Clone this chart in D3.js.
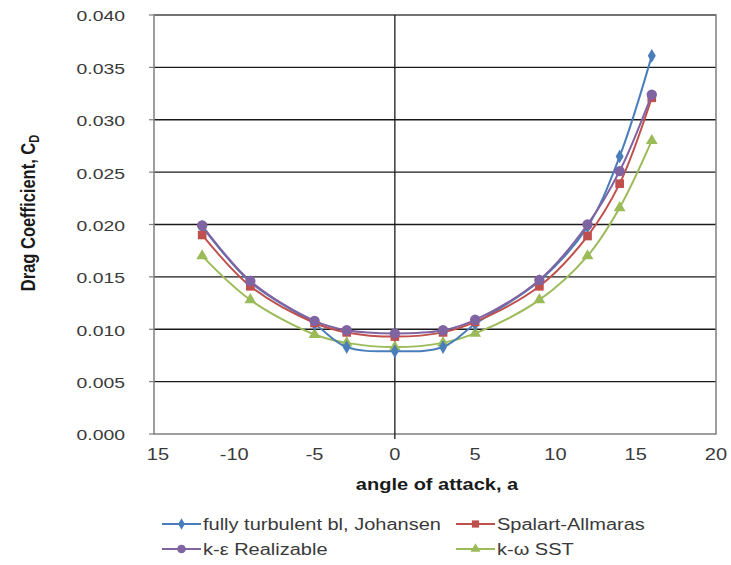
<!DOCTYPE html>
<html><head><meta charset="utf-8">
<script src="https://cdn.jsdelivr.net/npm/d3@7"></script>
<style>body{margin:0;background:#fff;} svg{display:block;font-family:"Liberation Sans",Arial,sans-serif;}</style>
</head><body>
<svg id="c" width="731" height="565"></svg>
<script>
const angles = [-12, -9, -5, -3, 0, 3, 5, 9, 12, 14, 16];
const johansen = [0.0198, 0.0145, 0.0105, 0.0083, 0.0079, 0.0083, 0.0105, 0.0146, 0.0198, 0.0265, 0.0361];
const spalart = [0.0190, 0.0141, 0.0106, 0.0097, 0.0093, 0.0097, 0.0107, 0.0141, 0.0189, 0.0239, 0.0321];
const kEps = [0.0199, 0.0146, 0.0108, 0.0099, 0.0096, 0.0099, 0.0109, 0.0147, 0.0200, 0.0251, 0.0324];
const kOmega = [0.0170, 0.0128, 0.0095, 0.0087, 0.0083, 0.0087, 0.0096, 0.0128, 0.0170, 0.0216, 0.0280];
const xTicks = [-15, -10, -5, 0, 5, 10, 15, 20];
const xTickLabels = ["15", "-10", "-5", "0", "5", "10", "15", "20"];
const yTicks = [0, 0.005, 0.01, 0.015, 0.02, 0.025, 0.03, 0.035, 0.04];
const seriesNames = ["fully turbulent bl, Johansen", "Spalart-Allmaras", "k-\u03b5 Realizable", "k-\u03c9 SST"];

const SX = 1.25; // horizontal stretch of the text in the reference
const svg = d3.select("#c");
const x = d3.scaleLinear().domain([-15, 20]).range([154, 716]);
const y = d3.scaleLinear().domain([0, 0.04]).range([434, 15]);

// gridlines
svg.append("g").selectAll("line").data(yTicks.slice(1)).join("line")
  .attr("x1", x(-15)).attr("x2", x(20)).attr("y1", d => y(d)).attr("y2", d => y(d))
  .attr("stroke", "#1a1a1a").attr("stroke-width", 1.3);

// plot border
svg.append("rect").attr("x", x(-15)).attr("y", y(0.04)).attr("width", x(20) - x(-15)).attr("height", y(0) - y(0.04))
  .attr("fill", "none").attr("stroke", "#7f7f7f").attr("stroke-width", 1.5);

// vertical axis at 0
svg.append("line").attr("x1", x(0)).attr("x2", x(0)).attr("y1", y(0.04)).attr("y2", y(0) + 5)
  .attr("stroke", "#1a1a1a").attr("stroke-width", 1.3);

// y ticks (small, on left border)
svg.append("g").selectAll("line").data(yTicks).join("line")
  .attr("x1", x(-15) - 5).attr("x2", x(-15)).attr("y1", d => y(d)).attr("y2", d => y(d))
  .attr("stroke", "#7f7f7f").attr("stroke-width", 1.2);

// y tick labels
svg.append("g").selectAll("text").data(yTicks).join("text")
  .attr("transform", d => `translate(125,${y(d) + 1}) scale(${SX},1)`)
  .attr("dy", "0.35em").attr("text-anchor", "end")
  .attr("font-size", 15.5).attr("fill", "#3a3a3a").text(d => d.toFixed(3));

// x tick labels
svg.append("g").selectAll("text").data(xTicks).join("text")
  .attr("transform", (d, i) => `translate(${x(d) + (i === 0 ? 4 : 0)},460) scale(${SX},1)`)
  .attr("text-anchor", "middle")
  .attr("font-size", 16).attr("fill", "#3a3a3a").text((d, i) => xTickLabels[i]);

// axis titles
svg.append("text").attr("transform", `translate(437,490) scale(${SX},1)`).attr("text-anchor", "middle")
  .attr("font-size", 16).attr("font-weight", "bold").attr("fill", "#1a1a1a").text("angle of attack, a");
const yt = svg.append("text").attr("transform", `translate(35,213) scale(${SX},1) rotate(-90)`).attr("text-anchor", "middle")
  .attr("font-size", 16.5).attr("font-weight", "bold").attr("fill", "#1a1a1a");
yt.append("tspan").text("Drag Coefficient, C");
yt.append("tspan").attr("font-size", 11).attr("dy", 3).text("D");

const series = [
  {name: seriesNames[0], vals: johansen, color: "#4a7ebb", sym: d3.symbolDiamond, size: 55},
  {name: seriesNames[1], vals: spalart, color: "#c0504d", sym: d3.symbolSquare, size: 75},
  {name: seriesNames[2], vals: kEps, color: "#8064a2", sym: d3.symbolCircle, size: 85},
  {name: seriesNames[3], vals: kOmega, color: "#9bbb59", sym: d3.symbolTriangle, size: 60}
];
const drawOrder = [3, 0, 1, 2];
const line = d3.line().x(d => x(d[0])).y(d => y(d[1])).curve(d3.curveCatmullRom.alpha(0.5));
drawOrder.forEach(i => {
  const s = series[i];
  const pts = angles.map((a, j) => [a, s.vals[j]]);
  svg.append("path").datum(pts).attr("d", line).attr("fill", "none")
    .attr("stroke", s.color).attr("stroke-width", 2);
  svg.append("g").selectAll("path").data(pts).join("path")
    .attr("d", d3.symbol().type(s.sym).size(s.size))
    .attr("transform", d => `translate(${x(d[0])},${y(d[1])})`)
    .attr("fill", s.color);
});

// legend
const legPos = [[162, 524], [456, 524], [162, 549], [456, 549]];
series.forEach((s, i) => {
  const [lx, ly] = legPos[i];
  svg.append("line").attr("x1", lx).attr("x2", lx + 39).attr("y1", ly).attr("y2", ly)
    .attr("stroke", s.color).attr("stroke-width", 2);
  svg.append("path").attr("d", d3.symbol().type(s.sym).size(s.size * 0.7))
    .attr("transform", `translate(${lx + 19.5},${ly})`).attr("fill", s.color);
  svg.append("text").attr("transform", `translate(${lx + 41},${ly}) scale(${SX},1)`).attr("dy", "0.35em")
    .attr("font-size", 16).attr("fill", "#3a3a3a").text(s.name);
});
</script>
</body></html>
